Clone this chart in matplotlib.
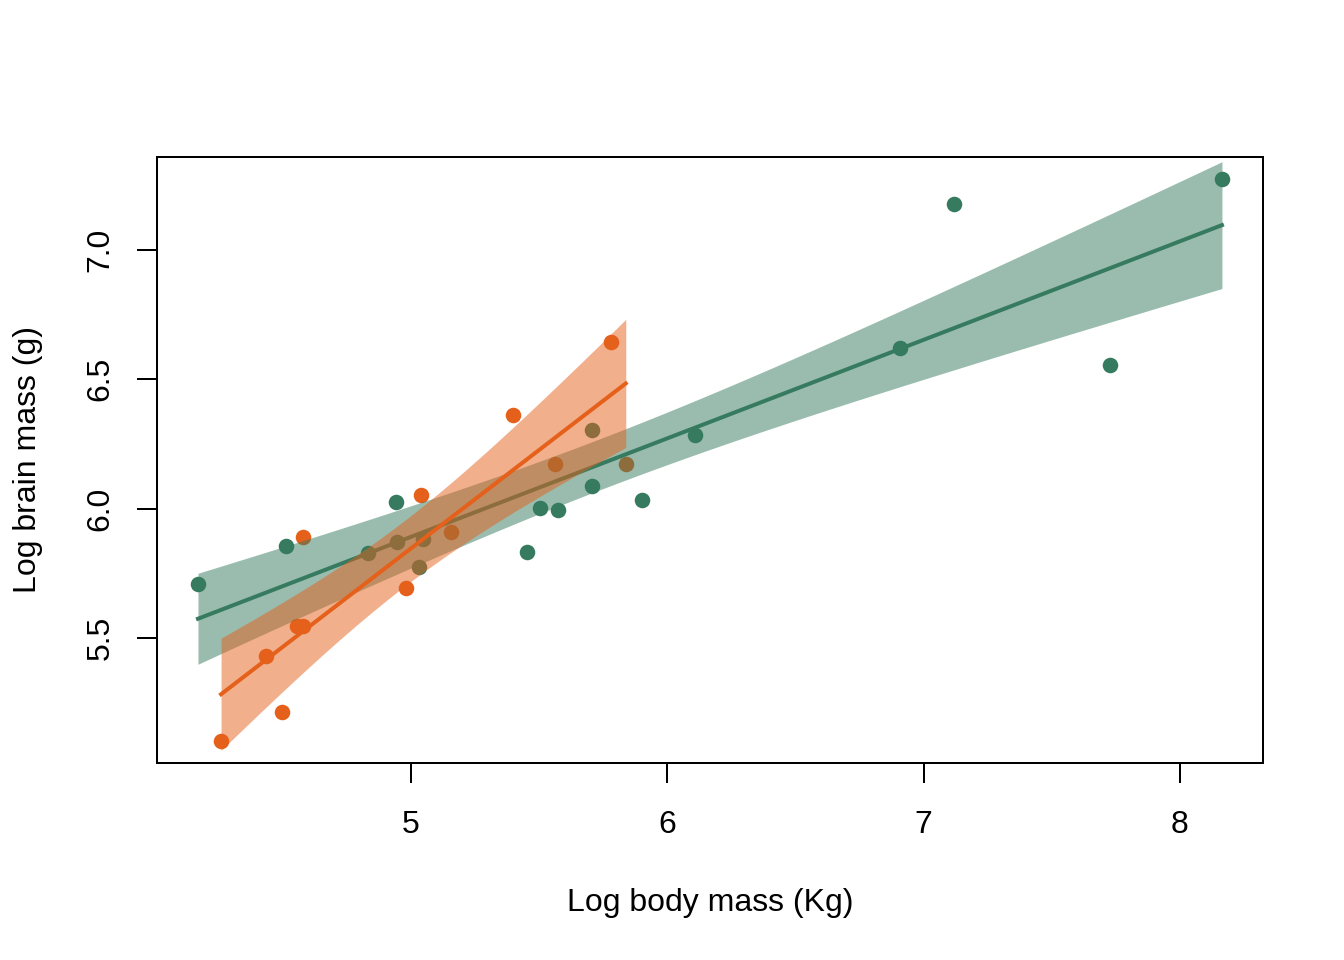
import numpy as np
import matplotlib.pyplot as plt

plt.rcParams['font.family'] = ['Liberation Sans', 'DejaVu Sans']

# green group
green_x = [4.169, 4.512, 4.941, 4.831, 4.945, 5.047, 5.031, 5.453, 5.502, 5.574,
           5.706, 5.900, 5.706, 6.108, 6.908, 7.119, 7.727, 8.164]
green_y = [5.709, 5.856, 6.026, 5.828, 5.870, 5.884, 5.773, 5.834, 6.004, 5.994,
           6.087, 6.034, 6.304, 6.285, 6.621, 7.178, 6.555, 7.274]

# orange group
orange_x = [4.259, 4.497, 4.434, 4.555, 4.579, 4.579, 4.980, 5.039, 5.398, 5.780,
            5.562, 5.156, 5.838]
orange_y = [5.102, 5.214, 5.431, 5.547, 5.547, 5.891, 5.693, 6.053, 6.362, 6.644,
            6.173, 5.910, 6.174]

GREEN = '#367b5f'
ORANGE = '#e5601a'


def fit_band(x, y, t_crit):
    x = np.asarray(x)
    y = np.asarray(y)
    n = len(x)
    b, a = np.polyfit(x, y, 1)
    resid = y - (a + b * x)
    s = np.sqrt(np.sum(resid ** 2) / (n - 2))
    sxx = np.sum((x - x.mean()) ** 2)
    xs = np.linspace(x.min(), x.max(), 100)
    fit = a + b * xs
    se = s * np.sqrt(1 / n + (xs - x.mean()) ** 2 / sxx)
    return xs, fit, fit - t_crit * se, fit + t_crit * se


fig = plt.figure(figsize=(7, 5), dpi=192)
ax = fig.add_axes([0.1168, 0.2052, 0.8229, 0.6313])

# points first, bands drawn over them
ax.scatter(orange_x, orange_y, s=34, color=ORANGE, linewidths=0, zorder=1)
ax.scatter(green_x, green_y, s=34, color=GREEN, linewidths=0, zorder=1)

gx, gfit, glo, ghi = fit_band(green_x, green_y, 2.120)
ax.fill_between(gx, glo, ghi, color=GREEN, alpha=0.5, linewidth=0, zorder=2)
ax.plot(gx, gfit, color=GREEN, lw=1.5, zorder=3)

ox, ofit, olo, ohi = fit_band(orange_x, orange_y, 2.201)
ax.fill_between(ox, olo, ohi, color=ORANGE, alpha=0.5, linewidth=0, zorder=4)
ax.plot(ox, ofit, color=ORANGE, lw=1.5, zorder=5)

ax.set_xlim(4.009, 8.324)
ax.set_ylim(5.017, 7.359)
ax.set_xticks([5, 6, 7, 8])
ax.set_xticklabels(['5', '6', '7', '8'])
ax.set_yticks([5.5, 6.0, 6.5, 7.0])
ax.set_yticklabels(['5.5', '6.0', '6.5', '7.0'], rotation=90, va='center')
ax.tick_params(labelsize=12, length=7.5, width=0.75)
ax.tick_params(axis='x', pad=10)
ax.tick_params(axis='y', pad=8)
for sp in ax.spines.values():
    sp.set_linewidth(0.75)

ax.set_xlabel('Log body mass (Kg)', fontsize=12, labelpad=18)
ax.set_ylabel('Log brain mass (g)', fontsize=12, labelpad=16)

fig.savefig('out.png', dpi=192)
